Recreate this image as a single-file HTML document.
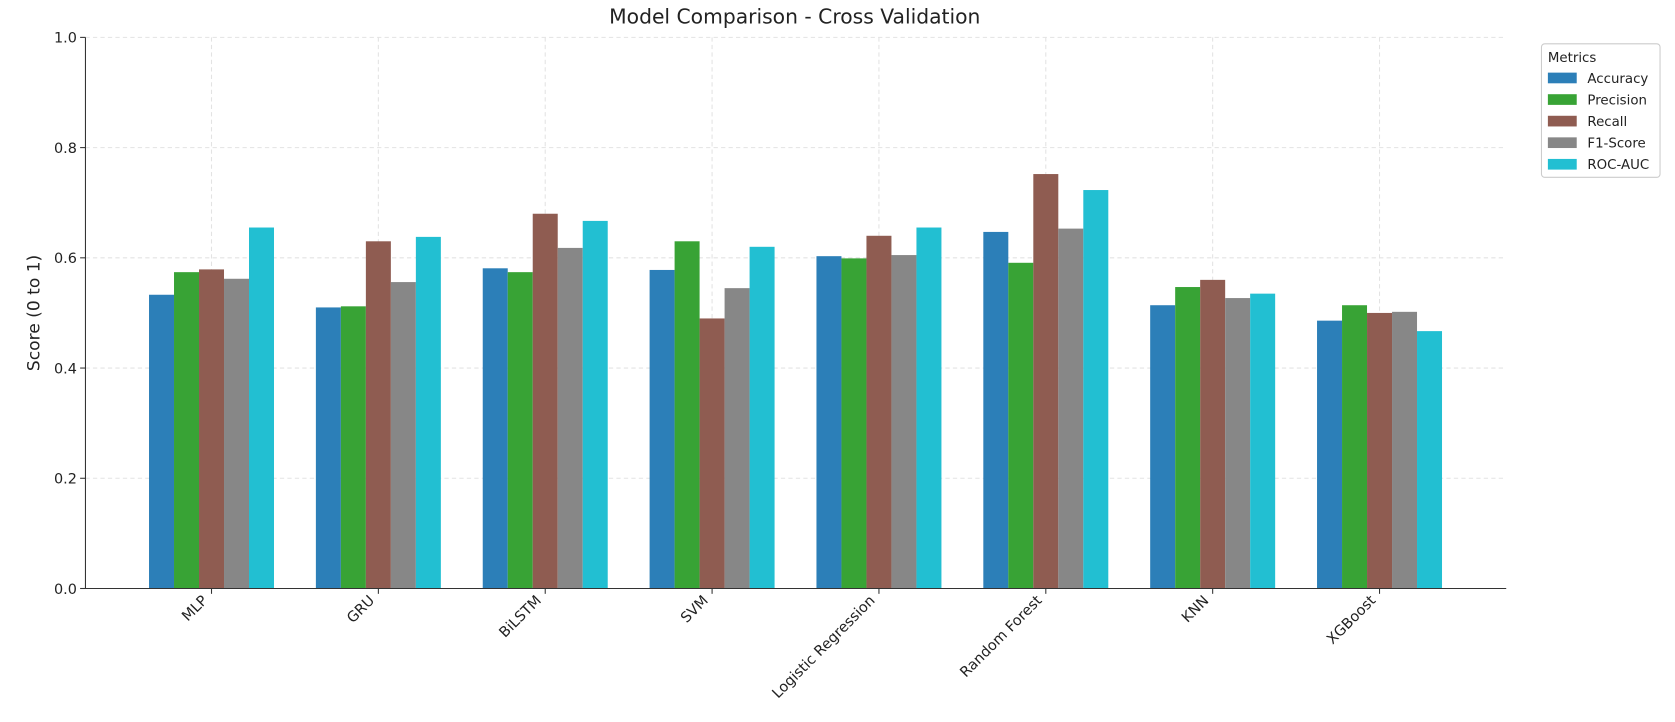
<!DOCTYPE html>
<html><head><meta charset="utf-8"><style>
body{margin:0;background:#fff;font-family:"Liberation Sans","DejaVu Sans",sans-serif;}
svg{display:block}
svg text{font-family:"DejaVu Sans","Liberation Sans",sans-serif;}
</style></head><body>
<svg id="chart" width="1675" height="722" viewBox="0 0 1568 676" preserveAspectRatio="none" xmlns="http://www.w3.org/2000/svg">
<text x="744" y="22" text-anchor="middle" font-size="19" fill="#222">Model Comparison - Cross Validation</text>
<text transform="translate(37,293) rotate(-90)" text-anchor="middle" font-size="16" fill="#222">Score (0 to 1)</text>
<g id="grid"></g><g id="bars"></g><g id="axes"></g>
<g>
<rect x="1443" y="41" width="111" height="125" rx="3" fill="#fff" stroke="#ccc"/>
<text x="1449" y="58" font-size="12.5" fill="#222">Metrics</text>
<g id="legend-entries"></g>
</g>
</svg>
<script>
const categories=["MLP","GRU","BiLSTM","SVM","Logistic Regression","Random Forest","KNN","XGBoost"];
const metrics=["Accuracy","Precision","Recall","F1-Score","ROC-AUC"];
const accuracy=[0.533,0.51,0.581,0.578,0.603,0.647,0.514,0.486];
const precision=[0.574,0.512,0.574,0.63,0.599,0.591,0.547,0.514];
const recall=[0.579,0.63,0.68,0.49,0.64,0.752,0.56,0.5];
const f1score=[0.562,0.556,0.618,0.545,0.605,0.653,0.527,0.502];
const rocauc=[0.655,0.638,0.667,0.62,0.655,0.723,0.535,0.467];
const yTicks=["0.0","0.2","0.4","0.6","0.8","1.0"];
const series=[accuracy,precision,recall,f1score,rocauc];
const colors=["#2c7fb8","#38a335","#8f5c51","#878787","#22bfd2"];
const NS="http://www.w3.org/2000/svg";
const x0=80,x1=1410,yB=551,yT=35;
const step=156.2,first=198,bw=23.4;
const yS=v=>yB-v*(yB-yT);
const xC=i=>first+i*step;
function mk(tag,attrs,parent){const e=document.createElementNS(NS,tag);for(const k in attrs)e.setAttribute(k,attrs[k]);document.getElementById(parent).appendChild(e);return e;}
yTicks.forEach(t=>{const y=yS(parseFloat(t));
 const g=mk('line',{x1:x0,x2:x1,y1:y,y2:y,stroke:'#e3e3e3','stroke-dasharray':'4,3'},'grid');
 
 
 const l=mk('text',{x:x0-8,y:y+5,'text-anchor':'end','font-size':'13.5',fill:'#222'},'axes');l.textContent=t;
 
 
 mk('line',{x1:x0-5,x2:x0,y1:y,y2:y,stroke:'#333'},'axes');
});
categories.forEach((c,i)=>{const x=xC(i);
 const g=mk('line',{x1:x,x2:x,y1:yT,y2:yB,stroke:'#e3e3e3','stroke-dasharray':'4,3'},'grid');
 
 
 mk('line',{x1:x,x2:x,y1:yB,y2:yB+5,stroke:'#333'},'axes');
 const t=mk('text',{transform:`translate(${x-3},${yB+12}) rotate(-45)`,'text-anchor':'end','font-size':'13.5',fill:'#222'},'axes');t.textContent=c;
 
 
 series.forEach((s,j)=>{const bx=x+(j-2)*bw-bw/2;const y=yS(s[i]);
  const r=mk('rect',{x:bx,y:y,width:bw,height:yB-y,fill:colors[j]},'bars');
  
  
 });
});
mk('line',{x1:x0,x2:x0,y1:yT,y2:yB,stroke:'#333'},'axes');
mk('line',{x1:x0,x2:x1,y1:yB,y2:yB,stroke:'#333'},'axes');
metrics.forEach((m,j)=>{const y=73+j*20.2;
 const r=mk('rect',{x:1449,y:y-5,width:27,height:10,fill:colors[j]},'legend-entries');
 
 
 const t=mk('text',{x:1486,y:y+4.5,'font-size':'12.5',fill:'#222'},'legend-entries');t.textContent=m;
 
 
});
</script>
</body></html>
